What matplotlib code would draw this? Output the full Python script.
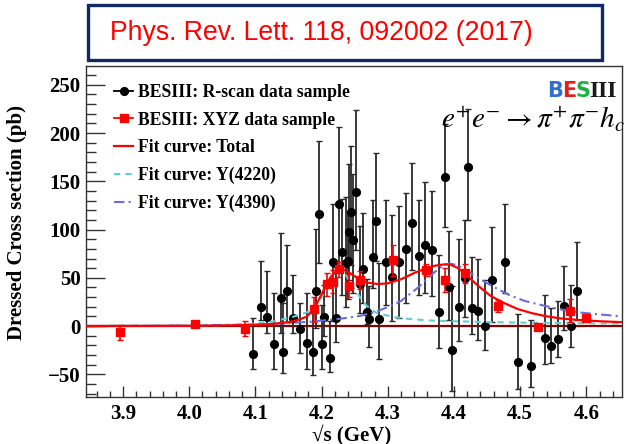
import matplotlib.pyplot as plt
from matplotlib.lines import Line2D
from matplotlib.patches import Rectangle
from matplotlib.ticker import MultipleLocator

plt.rcParams['font.family'] = ['Liberation Serif', 'DejaVu Serif']
plt.rcParams['mathtext.fontset'] = 'stix'

# R-scan data: energy (GeV), cross section (pb), upper / lower errors
rscan_e = [4.097, 4.108, 4.118, 4.128, 4.138, 4.142, 4.148, 4.157, 4.167, 4.178,
           4.187, 4.192, 4.196, 4.200, 4.203, 4.212, 4.217, 4.222, 4.227, 4.231,
           4.237, 4.240, 4.242, 4.245, 4.247, 4.252, 4.258, 4.2625, 4.268, 4.272,
           4.277, 4.282, 4.287, 4.297, 4.307, 4.317, 4.327, 4.337, 4.347, 4.357,
           4.367, 4.377, 4.387, 4.392, 4.397, 4.407, 4.417, 4.422, 4.427, 4.437,
           4.447, 4.457, 4.477, 4.497, 4.517, 4.537, 4.547, 4.557, 4.567, 4.577,
           4.586]
rscan_xs = [-29, 20, 9.6, -19, 28.7, -26.6, 36.3, 8.6, -3.4, -18,
            -26.6, 36.3, 116, -18.7, 9.6, -33.5, 66.7, 8.6, 126.5, 77,
            65, 67.7, 97.8, 118.5, 89, 139.3, 43.5, 58.8, 14.8, 7.3,
            71.9, 109, 7.3, 66, 51, 66.7, 79.5, 107, 72.6, 84,
            78.8, 14.8, 154.8, 40.8, -24.9, 20, 49.5, 164.6, 18.3, 15.9,
            0, 47.7, 66, -37, -41, -12.8, -20.4, -13.8, 21, 0,
            36.6]
rscan_up = [37, 47, 47, 53, 68, 51, 48, 44, 27, 52,
            40, 64, 76, 41, 33, 39, 60, 53, 80, 55,
            69, 50, 70, 68, 69, 85, 60, 58, 34, 34,
            59, 70, 58, 65, 64, 58, 58, 62, 58, 65,
            61, 59, 55, 58, 66, 70, 60, 60, 53, 54,
            48, 55, 61, 50, 47, 45, 39, 40, 41, 43,
            51]
rscan_dn = [16, 14, 17, 25, 36, 22, 32, 16, 25, 26,
            24, 38, 51, 26, 20, 14, 60, 25, 65, 45,
            45, 40, 50, 55, 55, 60, 30, 35, 13, 29,
            32, 42, 41, 44, 46, 58, 56, 49, 40, 50,
            48, 38, 52, 35, 42, 35, 40, 55, 26, 30,
            25, 43, 32, 28, 22, 27, 18, 18, 25, 22,
            30]

# XYZ data points
xyz_e = [3.896, 4.009, 4.085, 4.189, 4.208, 4.217, 4.226, 4.242, 4.258,
         4.308, 4.358, 4.387, 4.416, 4.467, 4.527, 4.575, 4.600]
xyz_xs = [-6.5, 2, -2.8, 17.3, 43.5, 46, 58.8, 41.8, 47.7,
          68.4, 58, 47.7, 54.6, 20.7, -0.7, 15.9, 8]
xyz_err = [8, 2, 8, 13, 12, 12, 8, 12, 9,
           16, 6, 12, 10, 6, 3, 12, 3]

# fit curves sampled along sqrt(s)
fit_e = [3.845, 4.00, 4.05, 4.10, 4.125, 4.15, 4.165, 4.177, 4.188, 4.200,
         4.207, 4.215, 4.225, 4.235, 4.245, 4.258, 4.270, 4.285, 4.300, 4.320,
         4.340, 4.357, 4.371, 4.386, 4.395, 4.405, 4.416, 4.436, 4.456, 4.477,
         4.497, 4.517, 4.537, 4.560, 4.585, 4.620, 4.655]
fit_total = [0, 0.3, 0.6, 1.2, 2.2, 4, 6.5, 9.6, 17, 33,
             43, 52, 58.5, 58, 54, 48, 45, 43.5, 44.3, 48.5,
             55, 59.5, 62.5, 64, 63.5, 60.5, 55, 42, 31, 23.5,
             17.5, 13.5, 10.5, 8, 6.5, 5, 4]

y4220_e = [3.845, 4.00, 4.05, 4.10, 4.125, 4.157, 4.177, 4.187, 4.198, 4.208,
           4.217, 4.226, 4.234, 4.242, 4.250, 4.258, 4.268, 4.283, 4.308, 4.333,
           4.363, 4.40, 4.45, 4.50, 4.55, 4.60, 4.655]
y4220_xs = [0.2, 0.6, 1.0, 2.5, 4.5, 9.6, 14, 17.5, 27, 41,
            53, 60, 56, 47, 38, 30, 21, 13.5, 9.6, 7.3,
            5.8, 5, 4.2, 3.6, 3.2, 2.9, 2.6]

y4390_e = [3.845, 4.00, 4.10, 4.15, 4.182, 4.222, 4.258, 4.283, 4.308, 4.320,
           4.333, 4.346, 4.358, 4.371, 4.383, 4.393, 4.405, 4.420, 4.434, 4.459,
           4.484, 4.507, 4.534, 4.560, 4.585, 4.620, 4.655]
y4390_xs = [0, 0.5, 1.5, 3, 4.5, 7, 10.5, 15, 22, 26,
            33, 40, 48, 56, 62.5, 65, 63, 57.5, 51, 41,
            32, 26, 21.5, 17.5, 14.5, 12, 10]

W, H = 627, 444
fig = plt.figure(figsize=(W / 100, H / 100), dpi=100)
ax = fig.add_axes([86 / W, 1 - 397 / H, (622 - 86) / W, (397 - 66) / H])

ax.axhline(0, color='#8b0000', lw=1.6, zorder=1)

ax.errorbar(rscan_e, rscan_xs, yerr=[rscan_dn, rscan_up], fmt='o', color='black',
            ms=5.6, ecolor='#2a2a2a', elinewidth=1.3, capsize=2, capthick=1, zorder=3)

ax.plot(y4220_e, y4220_xs, color='#5fcfcf', lw=1.5, ls=(0, (3, 2.5)), zorder=4)
ax.plot(y4390_e, y4390_xs, color='#6b6be0', lw=1.5, ls=(0, (5, 2, 1, 2)), zorder=4)
ax.plot(fit_e, fit_total, color='red', lw=1.6, zorder=5)

ax.errorbar(xyz_e, xyz_xs, yerr=xyz_err, fmt='s', color='red', ms=6,
            ecolor='red', elinewidth=1.2, capsize=2, capthick=1, zorder=6)

ax.set_xlim(3.844, 4.654)
ax.set_ylim(-73.5, 269.5)
ax.xaxis.set_major_locator(MultipleLocator(0.1))
ax.xaxis.set_minor_locator(MultipleLocator(0.02))
ax.yaxis.set_major_locator(MultipleLocator(50))
ax.yaxis.set_minor_locator(MultipleLocator(10))
ax.tick_params(which='both', direction='in', top=False, right=False,
               labelsize=15, width=1, color='#333333')
ax.tick_params(axis='y', which='major', length=14, pad=4)
ax.tick_params(axis='y', which='minor', length=7)
ax.tick_params(axis='x', which='major', length=8, pad=5)
ax.tick_params(axis='x', which='minor', length=4)
for lab in ax.get_xticklabels() + ax.get_yticklabels():
    lab.set_fontweight('bold')
for sp in ax.spines.values():
    sp.set_color('#333333')
    sp.set_linewidth(1)

fig.text(17 / W, 1 - 222 / H, 'Dressed Cross section (pb)', rotation=90,
         ha='center', va='center', fontsize=15, fontweight='bold')
fig.text(352 / W, 1 - 435 / H, '√s (GeV)', ha='center', va='center',
         fontsize=15, fontweight='bold')

handles = [
    Line2D([], [], color='black', marker='o', ms=5.6, lw=1.3),
    Line2D([], [], color='red', marker='s', ms=6, lw=1.3),
    Line2D([], [], color='red', lw=1.6),
    Line2D([], [], color='#5fcfcf', lw=1.5, ls=(0, (3, 2.5))),
    Line2D([], [], color='#6b6be0', lw=1.5, ls=(0, (5, 2, 1, 2))),
]
labels = ['BESIII: R-scan data sample', 'BESIII: XYZ data sample',
          'Fit curve: Total', 'Fit curve: Y(4220)', 'Fit curve: Y(4390)']
ax.legend(handles, labels, loc='upper left', bbox_to_anchor=(21 / 536, 1 - 11 / 331),
          frameon=False, prop={'weight': 'bold', 'size': 12.7}, handlelength=1.1,
          handletextpad=0.25, labelspacing=0.6, borderaxespad=0)

# experiment logo
logo = [('B', '#2f6fd0', 555), ('E', '#e02020', 569), ('S', '#20b040', 583)]
for ch, col, xp in logo:
    fig.text(xp / W, 1 - 97 / H, ch, color=col, fontsize=15, fontweight='bold',
             family='DejaVu Sans', ha='center', va='baseline')
fig.text(603 / W, 1 - 97 / H, 'III', color='#1a1a1a', fontsize=17, fontweight='bold',
         ha='center', va='baseline')

fig.text(441 / W, 1 - 128 / H, r'$e^{+}e^{-}\rightarrow\pi^{+}\pi^{-}h_{c}$',
         fontsize=21, ha='left', va='baseline')

# reference box above the plot
fig.patches.append(Rectangle((88 / W, 1 - 60 / H), (602 - 88) / W, 55 / H,
                             transform=fig.transFigure, facecolor='white',
                             edgecolor='#0f2a63', lw=2.4))
fig.text(110 / W, 1 - 33 / H, 'Phys. Rev. Lett. 118, 092002 (2017)', color='red',
         fontsize=19.2, family='Liberation Sans', ha='left', va='center')

fig.savefig('out.png', dpi=100)
